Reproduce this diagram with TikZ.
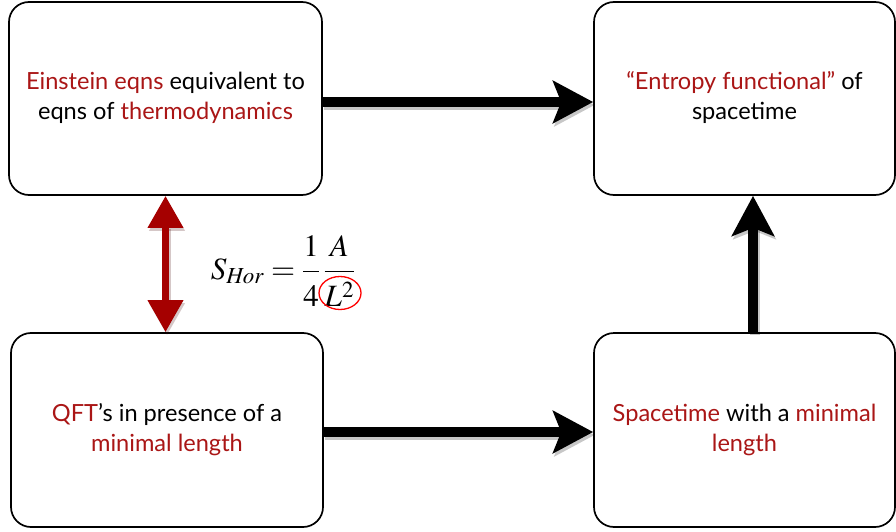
\documentclass[tikz,border=0pt]{standalone}
\usepackage{mathptmx}
\usepackage[no-math]{fontspec}
\setmainfont{Lato}
\usetikzlibrary{arrows.meta}
\definecolor{txtred}{RGB}{170,22,22}
\definecolor{arrred}{RGB}{165,0,0}
\newcommand{\boxlines}[2][-5pt]{\raisebox{#1}{\begin{tabular}{@{}c@{}}#2\end{tabular}}}
\newcommand{\numstrut}{\rule[-11pt]{0pt}{11pt}}
\newcommand{\denstrut}{\rule{0pt}{31pt}}
\begin{document}
\begin{tikzpicture}[x=1pt,y=-1pt,
  box/.style={draw=black,line width=1.7pt,rounded corners=20pt,fill=white,inner sep=0pt,
    font=\fontsize{23.6}{30}\selectfont},
  bigarrow/.style={line width=10pt,-{Stealth[length=40pt,width=42pt,inset=8pt]}},
  shadowarrow/.style={bigarrow,black,opacity=0.22,transform canvas={shift={(1.5pt,-3pt)}}},
  redarrow/.style={arrred,line width=7pt,{Triangle[length=32pt,width=34pt]}-{Triangle[length=32pt,width=34pt]}}]
\useasboundingbox (0,0) rectangle (896,532);
\node[box,minimum width=313pt,minimum height=193pt] (TL) at (165.5,98.5)
  {\boxlines[-6.5pt]{{\color{txtred}Einstein eqns} equivalent to\\eqns of {\color{txtred}thermodynamics}}};
\node[box,minimum width=301pt,minimum height=193pt] (TR) at (744.5,98.5)
  {\boxlines{{\color{txtred}“Entropy functional”} of\\spacetime}};
\node[box,minimum width=312pt,minimum height=194pt] (BL) at (167,430)
  {\boxlines{{\color{txtred}QFT}’s in presence of a\\{\color{txtred}minimal length}}};
\node[box,minimum width=301pt,minimum height=194pt] (BR) at (744.5,430)
  {\boxlines[-4.5pt]{{\color{txtred}Spacetime} with a {\color{txtred}minimal}\\{\color{txtred}length}}};
% arrows
\draw[shadowarrow] ([yshift=-3.5pt]TL.east) -- ([yshift=-3.5pt]TR.west);
\draw[bigarrow] ([yshift=-3.5pt]TL.east) -- ([yshift=-3.5pt]TR.west);
\draw[shadowarrow] ([yshift=-2pt]BL.east) -- ([yshift=-2pt]BR.west);
\draw[bigarrow] ([yshift=-2pt]BL.east) -- ([yshift=-2pt]BR.west);
\draw[shadowarrow] ([xshift=8.5pt]BR.north) -- ([xshift=8.5pt]TR.south);
\draw[bigarrow] ([xshift=8.5pt]BR.north) -- ([xshift=8.5pt]TR.south);
\draw[redarrow,opacity=0.22,arrred!40!black,transform canvas={shift={(1.5pt,-3pt)}}] (TL.south) -- (BL.north -| TL.south);
\draw[redarrow] (TL.south) -- (BL.north -| TL.south);
% formula
\node[font=\fontsize{31}{36}\selectfont,inner sep=0pt] (eq) at (283,271)
  {$\displaystyle S_{\mathit{Hor}} = \frac{1\numstrut}{\denstrut 4}\,\frac{A\numstrut}{\denstrut L^{2}}$};
\draw[red,line width=1.3pt] (340,293) ellipse (21 and 16.5);
\end{tikzpicture}
\end{document}
